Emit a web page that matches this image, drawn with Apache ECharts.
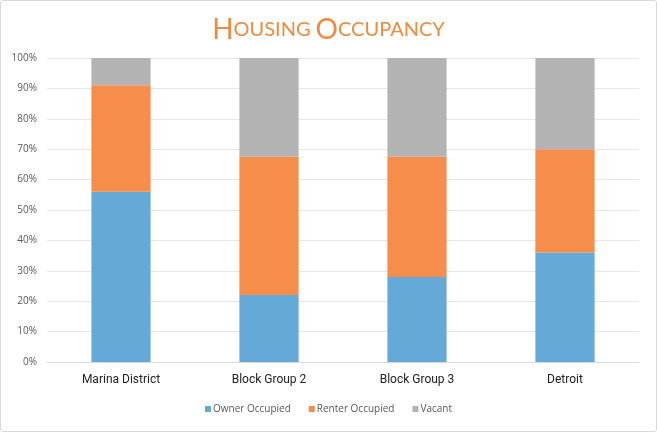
<!DOCTYPE html>
<html><head><meta charset="utf-8">
<script src="https://cdn.jsdelivr.net/npm/echarts@6/dist/echarts.min.js"></script>
<style>html,body{margin:0;padding:0;background:#fff}#c{width:655px;height:430px;border:1px solid #d9d9d9;border-radius:3px}</style>
</head><body><div id="c"></div>
<script>
const categories = ['Marina District', 'Block Group 2', 'Block Group 3', 'Detroit'];
const ownerOccupied = [56, 22, 28, 36];
const renterOccupied = [35, 45.5, 39.5, 34];
const vacant = [9, 32.5, 32.5, 30];
const chart = echarts.init(document.getElementById('c'));
const barW = '40%';
chart.setOption({
  animation: false,
  title: {
    text: '{b|H}{s|OUSING} {b|O}{s|CCUPANCY}',
    left: 'center', top: 10,
    textStyle: {
      rich: {
        b: {fontSize: 28, color: '#ef8a3e', fontFamily: 'Lato', fontWeight: 400, letterSpacing: 1.5},
        s: {fontSize: 20, color: '#ef8a3e', fontFamily: 'Lato', fontWeight: 400, letterSpacing: 1.5}
      }
    }
  },
  grid: {left: 46, right: 17, top: 57, bottom: 69, containLabel: false},
  legend: {
    bottom: 12, left: 'center', itemWidth: 6, itemHeight: 6, itemGap: 18, icon: 'rect',
    textStyle: {fontSize: 10, color: '#595959', fontFamily: 'Open Sans', padding: [0, 0, 0, -3]},
    data: ['Owner Occupied', 'Renter Occupied', 'Vacant']
  },
  xAxis: {
    type: 'category', data: categories,
    axisLine: {lineStyle: {color: '#d9d9d9'}}, axisTick: {show: false},
    axisLabel: {color: '#222', fontSize: 12, fontFamily: 'Roboto', margin: 12}
  },
  yAxis: {
    type: 'value', min: 0, max: 100, interval: 10,
    axisLabel: {formatter: '{value}%', color: '#595959', fontSize: 10, fontFamily: 'Open Sans', margin: 10},
    splitLine: {lineStyle: {color: '#e6e6e6'}},
    axisLine: {show: false}, axisTick: {show: false}
  },
  series: [
    {name: 'Owner Occupied', type: 'bar', stack: 't', data: ownerOccupied, barWidth: barW, itemStyle: {color: '#64a9d7'}},
    {name: 'Renter Occupied', type: 'bar', stack: 't', data: renterOccupied, barWidth: barW, itemStyle: {color: '#f68d4b'}},
    {name: 'Vacant', type: 'bar', stack: 't', data: vacant, barWidth: barW, itemStyle: {color: '#b3b3b3'}}
  ]
});
</script></body></html>
